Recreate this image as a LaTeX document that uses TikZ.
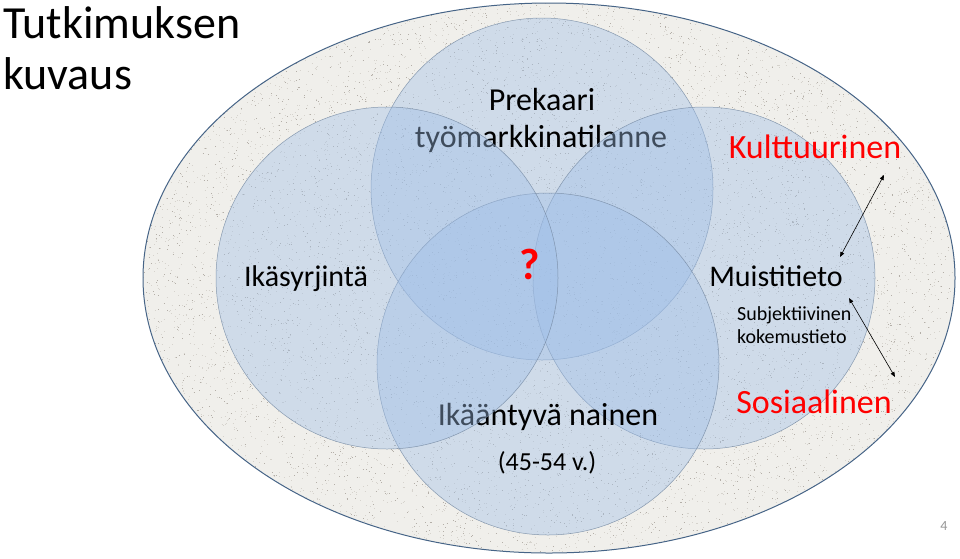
\documentclass[tikz,border=0pt]{standalone}
\usepackage{fontspec}
\setmainfont{Carlito}
\usetikzlibrary{arrows.meta}
\definecolor{granite}{RGB}{240,239,235}
\definecolor{speckA}{RGB}{214,211,205}
\definecolor{speckB}{RGB}{180,175,168}
\definecolor{rimblue}{RGB}{70,100,135}
\definecolor{circfill}{RGB}{158,190,232}
\definecolor{circline}{RGB}{120,140,165}
\definecolor{pagegrey}{RGB}{150,150,150}
\definecolor{kred}{RGB}{255,0,0}
\begin{document}
\begin{tikzpicture}[x=1pt,y=-1pt,
  venn/.style={circle, minimum size=342pt, inner sep=0pt, fill=circfill, fill opacity=0.40, draw=circline, draw opacity=0.85, line width=0.5pt},
  big/.style={anchor=base, inner sep=0pt, text=black, font=\fontsize{32}{38}\selectfont},
  mid/.style={anchor=base, inner sep=0pt, text=black, font=\fontsize{30}{36}\selectfont},
  redlab/.style={anchor=base, inner sep=0pt, text=kred, font=\fontsize{34}{40}\selectfont},
  small/.style={anchor=base west, inner sep=0pt, text=black, font=\fontsize{20}{24}\selectfont},
  titlelab/.style={anchor=base west, inner sep=0pt, text=black, font=\fontsize{46}{50}\selectfont},
  dbl/.style={{Triangle[length=5pt,width=4pt]}-{Triangle[length=5pt,width=4pt]}, line width=0.6pt, black}
]
\useasboundingbox (0,0) rectangle (960,558);
\fill[white] (0,0) rectangle (960,558);

% granite ellipse
\pgfmathsetseed{7}
\begin{scope}
  \clip (549,278) ellipse [x radius=406pt, y radius=275pt];
  \fill[granite] (143,3) rectangle (955,553);
  \draw[speckA, line width=1pt] \foreach \i in {1,...,9000}{ ({549+406*rand},{278+275*rand}) -- ++(1,0) };
  \draw[speckB, line width=0.9pt] \foreach \i in {1,...,4000}{ ({549+406*rand},{278+275*rand}) -- ++(0.9,0) };
\end{scope}
\draw[rimblue, line width=1pt] (549,278) ellipse [x radius=406pt, y radius=275pt];

% title
\node[titlelab] (title1) at (3,38) {Tutkimuksen};
\node[titlelab] (title2) at (3,89) {kuvaus};

% top circle and its text
\node[venn] (cT) at (542,189) {};
\node[big] (prek) at (542,110) {Prekaari};
\node[big] (tyom) at (541,147) {työmarkkinatilanne};

% right circle
\node[venn] (cR) at (704,278) {};

% bottom circle and its text
\node[venn] (cB) at (548,364) {};
\node[big] (ikaan) at (548,425) {Ikääntyvä nainen};
\node[anchor=base, inner sep=0pt, font=\fontsize{26}{30}\selectfont] (age) at (547,470) {(45-54 v.)};

% left circle
\node[venn] (cL) at (387,278) {};

% labels on top
\node[mid] (ikas) at (306,286) {Ikäsyrjintä};
\node[anchor=center, inner sep=0pt, text=kred, font=\fontsize{44}{50}\selectfont\bfseries] (q) at (530,264) {?};
\node[mid] (muist) at (776,286) {Muistitieto};
\node[small] (subj) at (737,320) {Subjektiivinen};
\node[small] (koke) at (737,343) {kokemustieto};
\node[redlab] (kult) at (815,158) {Kulttuurinen};
\node[redlab] (sos) at (814,413) {Sosiaalinen};

% arrows
\coordinate (a1s) at (884,175);
\coordinate (a1e) at (840,257);
\coordinate (a2s) at (849,298);
\coordinate (a2e) at (895,377);
\draw[dbl] (a1s) -- (a1e);
\draw[dbl] (a2s) -- (a2e);

% page number
\node[anchor=center, inner sep=0pt, text=pagegrey, font=\fontsize{14}{16}\selectfont] (pnum) at (944,526) {4};
\end{tikzpicture}
\end{document}
